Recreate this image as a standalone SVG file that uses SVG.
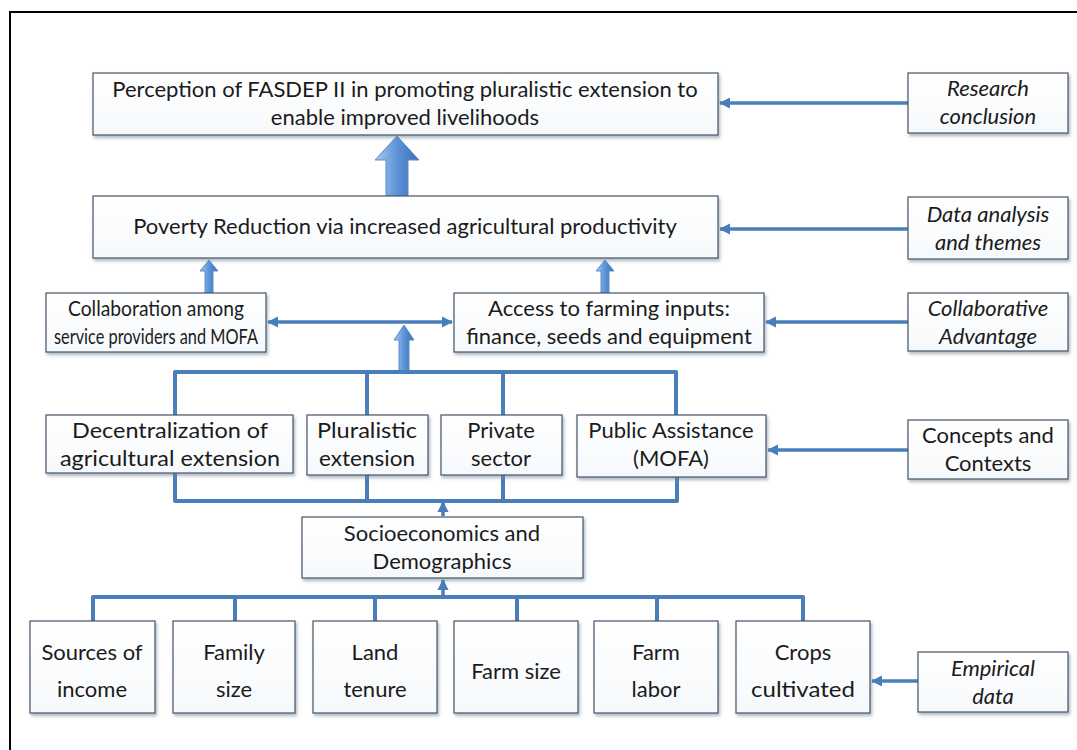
<svg xmlns="http://www.w3.org/2000/svg" width="1077" height="750" viewBox="0 0 1077 750">
  <defs>
    <style>
      .box { fill: url(#boxFill); stroke: #44546a; stroke-width: 1.2; filter: url(#shadow); }
      .t { font-family: Lato, "Liberation Sans", Arial, sans-serif; font-size: 22px; fill: #1b1b1b; text-anchor: middle; }
      .it { font-style: italic; }
      .link { fill: none; stroke: #4a7ebb; stroke-width: 3.5; }
      .bracket { fill: none; stroke: #4a7ebb; stroke-width: 4; stroke-linejoin: round; }
      .fat { fill: url(#arrowFill); stroke: #5b8cc8; stroke-width: 1; }
    </style>
    <linearGradient id="boxFill" x1="0" y1="0" x2="0" y2="1">
      <stop offset="0" stop-color="#ffffff"/>
      <stop offset="1" stop-color="#f6f9fc"/>
    </linearGradient>
    <linearGradient id="arrowFill" x1="0" y1="0" x2="1" y2="0">
      <stop offset="0" stop-color="#a9c8ee"/>
      <stop offset="0.5" stop-color="#5d93d6"/>
      <stop offset="1" stop-color="#3a6fb5"/>
    </linearGradient>
    <filter id="shadow" x="-5%" y="-5%" width="112%" height="125%">
      <feDropShadow dx="1.5" dy="2.5" stdDeviation="1.5" flood-color="#6f7f90" flood-opacity="0.55"/>
    </filter>
    <marker id="head" viewBox="0 0 10 10" refX="9" refY="5" markerWidth="3.2" markerHeight="3.2" orient="auto-start-reverse" markerUnits="strokeWidth">
      <path d="M0,0 L10,5 L0,10 z" fill="#4a7ebb"/>
    </marker>
  </defs>

  <!-- frame -->
  <rect x="10" y="12" width="1100" height="800" fill="#ffffff" stroke="#000000" stroke-width="2"/>

  <!-- connectors -->
  <g id="connectors">
    <!-- side labels pointing into the levels -->
    <line class="link" x1="908" y1="103" x2="720" y2="103" marker-end="url(#head)"/>
    <line class="link" x1="908" y1="229" x2="720" y2="229" marker-end="url(#head)"/>
    <line class="link" x1="908" y1="322" x2="766" y2="322" marker-end="url(#head)"/>
    <line class="link" x1="908" y1="450" x2="768" y2="450" marker-end="url(#head)"/>
    <line class="link" x1="918" y1="681" x2="872" y2="681" marker-end="url(#head)"/>

    <!-- poverty reduction up to perception -->
    <path class="fat" d="M386,196 L386,160 L375,160 L397,136 L419,160 L408,160 L408,196 Z"/>

    <!-- collaboration / access up to poverty reduction -->
    <path class="fat" d="M205,293 L205,271 L200,271 L209,260 L218,271 L213,271 L213,293 Z"/>
    <path class="fat" d="M601,293 L601,271 L596,271 L605,260 L614,271 L609,271 L609,293 Z"/>

    <!-- link between collaboration and access -->
    <line class="link" x1="268" y1="322" x2="452" y2="322" marker-start="url(#head)" marker-end="url(#head)"/>

    <!-- concepts bracket up to the link -->
    <path class="fat" d="M399,372 L399,340 L394,340 L404,325 L414,340 L409,340 L409,372 Z"/>
    <path class="bracket" d="M175,415 L175,372 L676,372 L676,415 M367,372 L367,415 M503,372 L503,415"/>

    <!-- lower bracket under concepts -->
    <path class="bracket" d="M175,473 L175,501 L677,501 L677,477 M367,475 L367,501 M503,475 L503,501"/>
    <line class="link" x1="443" y1="516" x2="443" y2="502" marker-end="url(#head)"/>

    <!-- empirical data bracket -->
    <path class="bracket" d="M93,621 L93,597 L803,597 L803,621 M235,597 L235,621 M375,597 L375,621 M517,597 L517,621 M657,597 L657,621"/>
    <line class="link" x1="443" y1="597" x2="443" y2="580" marker-end="url(#head)"/>
  </g>

  <!-- level: research conclusion -->
  <g id="perception">
    <rect class="box" x="93" y="73" width="625" height="62"/>
    <text class="t" x="405" y="97">Perception of FASDEP II in promoting pluralistic extension to</text>
    <text class="t" x="405" y="125">enable improved livelihoods</text>
  </g>
  <g id="research-conclusion">
    <rect class="box" x="908" y="73" width="160" height="60"/>
    <text class="t it" x="988" y="96">Research</text>
    <text class="t it" x="988" y="124">conclusion</text>
  </g>

  <!-- level: data analysis -->
  <g id="poverty-reduction">
    <rect class="box" x="93" y="196" width="625" height="62"/>
    <text class="t" x="405" y="234">Poverty Reduction via increased agricultural productivity</text>
  </g>
  <g id="data-analysis">
    <rect class="box" x="908" y="197" width="160" height="62"/>
    <text class="t it" x="988" y="222">Data analysis</text>
    <text class="t it" x="988" y="250">and themes</text>
  </g>

  <!-- level: collaborative advantage -->
  <g id="collaboration">
    <rect class="box" x="46" y="293" width="220" height="59"/>
    <text class="t" x="156" y="316" textLength="176" lengthAdjust="spacingAndGlyphs">Collaboration among</text>
    <text class="t" x="156" y="344" textLength="204" lengthAdjust="spacingAndGlyphs">service providers and MOFA</text>
  </g>
  <g id="access">
    <rect class="box" x="454" y="293" width="310" height="59"/>
    <text class="t" x="609" y="316">Access to farming inputs:</text>
    <text class="t" x="609" y="344">finance, seeds and equipment</text>
  </g>
  <g id="collaborative-advantage">
    <rect class="box" x="908" y="293" width="160" height="58"/>
    <text class="t it" x="988" y="316">Collaborative</text>
    <text class="t it" x="988" y="344">Advantage</text>
  </g>

  <!-- level: concepts and contexts -->
  <g id="decentralization">
    <rect class="box" x="46" y="415" width="247" height="58"/>
    <text class="t" x="170" y="438" textLength="196" lengthAdjust="spacingAndGlyphs">Decentralization of</text>
    <text class="t" x="170" y="466" textLength="220" lengthAdjust="spacingAndGlyphs">agricultural extension</text>
  </g>
  <g id="pluralistic">
    <rect class="box" x="307" y="415" width="121" height="60"/>
    <text class="t" x="367" y="438" textLength="100" lengthAdjust="spacingAndGlyphs">Pluralistic</text>
    <text class="t" x="367" y="466" textLength="96" lengthAdjust="spacingAndGlyphs">extension</text>
  </g>
  <g id="private">
    <rect class="box" x="441" y="415" width="121" height="60"/>
    <text class="t" x="501" y="438">Private</text>
    <text class="t" x="501" y="466">sector</text>
  </g>
  <g id="public">
    <rect class="box" x="577" y="415" width="189" height="62"/>
    <text class="t" x="671" y="438">Public Assistance</text>
    <text class="t" x="671" y="466">(MOFA)</text>
  </g>
  <g id="concepts">
    <rect class="box" x="908" y="420" width="160" height="59"/>
    <text class="t" x="988" y="443">Concepts and</text>
    <text class="t" x="988" y="471">Contexts</text>
  </g>

  <!-- socioeconomics -->
  <g id="socioeconomics">
    <rect class="box" x="302" y="517" width="281" height="61"/>
    <text class="t" x="442" y="541">Socioeconomics and</text>
    <text class="t" x="442" y="569">Demographics</text>
  </g>

  <!-- level: empirical data -->
  <g id="sources">
    <rect class="box" x="30" y="621" width="125" height="92"/>
    <text class="t" x="92" y="660">Sources of</text>
    <text class="t" x="92" y="697">income</text>
  </g>
  <g id="family">
    <rect class="box" x="173" y="621" width="122" height="92"/>
    <text class="t" x="234" y="660">Family</text>
    <text class="t" x="234" y="697">size</text>
  </g>
  <g id="land">
    <rect class="box" x="313" y="621" width="124" height="92"/>
    <text class="t" x="375" y="660">Land</text>
    <text class="t" x="375" y="697">tenure</text>
  </g>
  <g id="farm-size">
    <rect class="box" x="454" y="621" width="124" height="92"/>
    <text class="t" x="516" y="679">Farm size</text>
  </g>
  <g id="farm-labor">
    <rect class="box" x="594" y="621" width="124" height="92"/>
    <text class="t" x="656" y="660">Farm</text>
    <text class="t" x="656" y="697">labor</text>
  </g>
  <g id="crops">
    <rect class="box" x="736" y="621" width="134" height="92"/>
    <text class="t" x="803" y="660">Crops</text>
    <text class="t" x="803" y="697" textLength="104" lengthAdjust="spacingAndGlyphs">cultivated</text>
  </g>
  <g id="empirical">
    <rect class="box" x="918" y="652" width="150" height="60"/>
    <text class="t it" x="993" y="676">Empirical</text>
    <text class="t it" x="993" y="704">data</text>
  </g>
</svg>
